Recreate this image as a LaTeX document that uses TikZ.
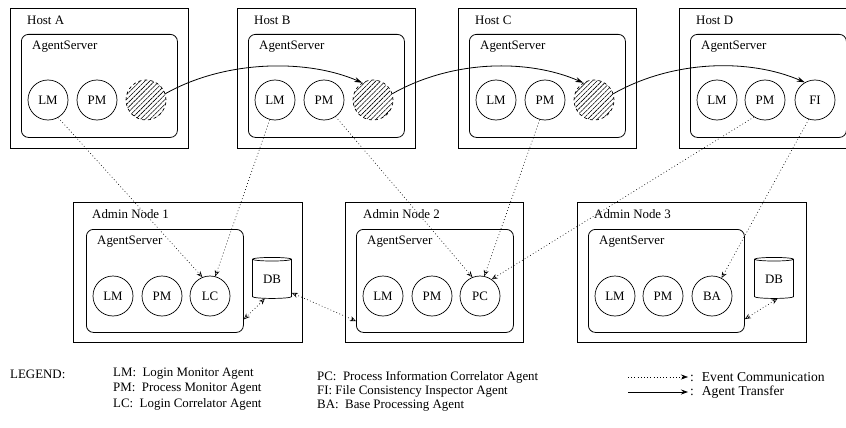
\documentclass[tikz,border=0pt]{standalone}
\usepackage{fontspec}
\setmainfont{Liberation Serif}
\usetikzlibrary{arrows.meta,shapes.geometric,patterns.meta,calc}
\begin{document}
\begin{tikzpicture}[x=1pt,y=-1pt,
  font=\fontsize{12.9}{15}\selectfont,
  box/.style={draw,line width=0.9pt,rectangle,anchor=north west,minimum height=140pt,inner sep=0pt},
  server/.style={draw,line width=0.8pt,rectangle,rounded corners=7pt,anchor=north west,minimum width=156pt,minimum height=103pt,inner sep=0pt},
  agent/.style={draw,line width=0.7pt,circle,minimum size=40pt,inner sep=0pt},
  mobile/.style={agent,dashed,pattern={Lines[angle=45,distance=3.4pt,line width=0.6pt]}},
  db/.style={draw,line width=0.7pt,cylinder,shape border rotate=90,aspect=0.2,minimum width=39pt,minimum height=41pt,inner sep=0pt},
  lbl/.style={anchor=west,inner sep=0pt},
  biglbl/.style={lbl,font=\fontsize{13.6}{16}\selectfont},
  event/.style={line width=0.6pt,dash pattern=on 0.8pt off 2.4pt,-{Stealth[open,length=6pt,width=5pt]}},
  eventbi/.style={event,{Stealth[open,length=6pt,width=5pt]}-{Stealth[open,length=6pt,width=5pt]}},
  transfer/.style={line width=0.8pt,-{Stealth[length=8pt,width=5pt]}},
]
\clip (0,0) rectangle (846,428);
% Hosts
\node[box,minimum width=178pt] (hostA) at (10,8) {};
\node[box,minimum width=178pt] (hostB) at (237,8) {};
\node[box,minimum width=178pt] (hostC) at (458,8) {};
\node[box,minimum width=178pt] (hostD) at (679,8) {};
\node[lbl] (hAl) at (27,20) {Host A};
\node[lbl] (hBl) at (254,20) {Host B};
\node[lbl] (hCl) at (475,20) {Host C};
\node[lbl] (hDl) at (696,20) {Host D};
\node[server] (sA) at (21,34) {};
\node[server] (sB) at (248,34) {};
\node[server] (sC) at (469,34) {};
\node[server] (sD) at (690,34) {};
\node[lbl] (sAl) at (32,47) {AgentServer};
\node[lbl] (sBl) at (259,47) {AgentServer};
\node[lbl] (sCl) at (480,47) {AgentServer};
\node[lbl] (sDl) at (701,47) {AgentServer};
\node[agent] (lmA) at (48,100) {LM};
\node[agent] (pmA) at (97,100) {PM};
\node[mobile] (mA) at (146,100) {};
\node[agent] (lmB) at (275,100) {LM};
\node[agent] (pmB) at (324,100) {PM};
\node[mobile] (mB) at (373,100) {};
\node[agent] (lmC) at (496,100) {LM};
\node[agent] (pmC) at (545,100) {PM};
\node[mobile] (mC) at (594,100) {};
\node[agent] (lmD) at (717,100) {LM};
\node[agent] (pmD) at (765,100) {PM};
\node[agent] (fiD) at (815,100) {FI};
% Admin nodes
\node[box,minimum width=229pt] (ad1) at (73,202) {};
\node[box,minimum width=178pt] (ad2) at (345,202) {};
\node[box,minimum width=229pt] (ad3) at (577,202) {};
\node[lbl] (ad1l) at (92,214) {Admin Node 1};
\node[lbl] (ad2l) at (363,214) {Admin Node 2};
\node[lbl] (ad3l) at (594,214) {Admin Node 3};
\node[server,minimum width=157pt] (as1) at (86,229) {};
\node[server,minimum width=157pt] (as2) at (356,229) {};
\node[server] (as3) at (588,229) {};
\node[lbl] (as1l) at (97,242) {AgentServer};
\node[lbl] (as2l) at (367,242) {AgentServer};
\node[lbl] (as3l) at (599,242) {AgentServer};
\node[agent] (lm1) at (113,296) {LM};
\node[agent] (pm1) at (162,296) {PM};
\node[agent] (lc1) at (210,296) {LC};
\node[agent] (lm2) at (383,296) {LM};
\node[agent] (pm2) at (432,296) {PM};
\node[agent] (pc2) at (480,296) {PC};
\node[agent] (lm3) at (615,296) {LM};
\node[agent] (pm3) at (663,296) {PM};
\node[agent] (ba3) at (712,296) {BA};
\node[db] (db1) at (272,279) {DB};
\node[db] (db3) at (774,279) {DB};
% Agent transfer
\draw[transfer] (mA.18) .. controls +(60,-34) and +(-55,-24) .. (mB.122);
\draw[transfer] (mB.18) .. controls +(60,-34) and +(-55,-24) .. (mC.122);
\draw[transfer] (mC.18) .. controls +(60,-34) and +(-55,-24) .. (fiD.120);
% Event communication
\draw[event] (lmA.-60) -- (lc1.112);
\draw[event] (lmB.-105) -- (lc1.75);
\draw[event] (pmB.-55) -- (pc2.112);
\draw[event] (pmC.-105) -- (pc2.78);
\draw[event] (pmD.-123) -- (pc2.55);
\draw[event] (fiD.-108) -- (ba3.62);
\draw[eventbi] (db1.-110) -- (as1.-26.7);
\draw[eventbi] (db1.-35) -- (as2.-153.3);
\draw[eventbi] (db3.-80) -- (as3.-26.9);
% Legend
\node[lbl] (leg) at (10,374) {LEGEND:};
\node[lbl] (l1) at (113,374) {LM:\ \ Login Monitor Agent};
\node[lbl] (l2) at (113,389) {PM:\ \ Process Monitor Agent};
\node[lbl] (l3) at (113,404) {LC:\ \ Login Correlator Agent};
\node[lbl] (l4) at (317,377) {PC:\ \ Process Information Correlator Agent};
\node[lbl] (l5) at (317,391) {FI: File Consistency Inspector Agent};
\node[lbl] (l6) at (317,406) {BA:\ \ Base Processing Agent};
\node[biglbl] (evt) at (690,377) {: \ Event Communication};
\node[biglbl] (trt) at (690,392) {: \ Agent Transfer};
\coordinate (ev0) at (628,377);
\coordinate (tr0) at (628,392);
\draw[line width=0.6pt,dash pattern=on 0.8pt off 2.4pt,-{Stealth[length=7pt,width=5pt]}] (ev0) -- ([xshift=-2pt]evt.west);
\draw[line width=0.8pt,-{Stealth[length=7pt,width=5pt]}] (tr0) -- ([xshift=-2pt]trt.west);
\end{tikzpicture}
\end{document}
